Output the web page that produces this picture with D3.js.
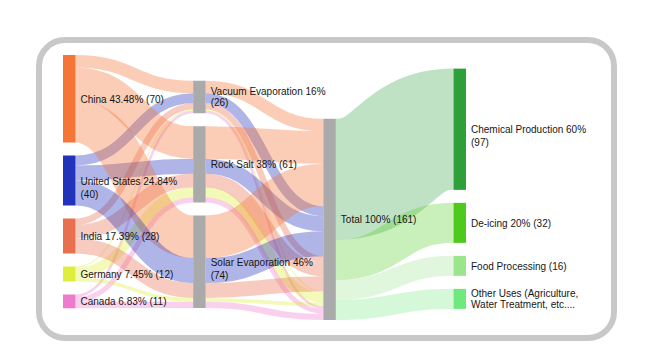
<!DOCTYPE html>
<html><head><meta charset="utf-8">
<script src="https://cdn.jsdelivr.net/npm/d3@7"></script>
<style>
body{margin:0;background:#fff}
svg{display:block}
text{font-family:"Liberation Sans",Arial,sans-serif;font-size:10px;fill:#161616}
</style>
</head><body>
<svg id="chart" width="658" height="359"></svg>
<script>
// ---------------- data ----------------
const countries = ["China", "United States", "India", "Germany", "Canada"];
const countryLabels = ["China 43.48% (70)", "United States 24.84% (40)", "India 17.39% (28)", "Germany 7.45% (12)", "Canada 6.83% (11)"];
const countryColors = ["#f47536", "#2233bb", "#e8704f", "#dfee3c", "#ee7ccd"];

const processes = ["Vacuum Evaporation", "Rock Salt", "Solar Evaporation"];
const processLabels = ["Vacuum Evaporation 16% (26)", "Rock Salt 38% (61)", "Solar Evaporation 46% (74)"];
// flow of each country (same order as countries) into each process
const vacuumByCountry = [10, 8, 5, 1, 2];
const rockSaltByCountry = [26, 12, 11, 8, 4];
const solarByCountry = [34, 20, 12, 3, 5];

const totalName = "Total";
const totalLabel = "Total 100% (161)";

const uses = ["Chemical Production", "De-icing", "Food Processing", "Other Uses"];
const useLabels = ["Chemical Production 60% (97)", "De-icing 20% (32)", "Food Processing (16)", "Other Uses (Agriculture, Water Treatment, etc...."];
const useValues = [97, 32, 16, 16];
const useColors = ["#2ea03a", "#4ccb1c", "#9be68d", "#6fe97d"];
const grayNode = "#aaaaaa";

// ---------------- build graph ----------------
const nodes = [];
countries.forEach((c, i) => nodes.push({name: c, label: countryLabels[i], layer: 0, color: countryColors[i]}));
processes.forEach((p, i) => nodes.push({name: p, label: processLabels[i], layer: 1, color: grayNode}));
nodes.push({name: totalName, label: totalLabel, layer: 2, color: grayNode});
uses.forEach((u, i) => nodes.push({name: u, label: useLabels[i], layer: 3, color: useColors[i]}));
const byName = new Map(nodes.map(n => [n.name, n]));

const processFlows = [vacuumByCountry, rockSaltByCountry, solarByCountry];
const links = [];
processFlows.forEach((arr, p) => arr.forEach((v, c) => {
  if (v > 0) links.push({source: byName.get(countries[c]), target: byName.get(processes[p]), value: v, group: c, color: countryColors[c], op: 0.36});
}));
processFlows.forEach((arr, p) => arr.forEach((v, c) => {
  if (v > 0) links.push({source: byName.get(processes[p]), target: byName.get(totalName), value: v, group: c, color: countryColors[c], op: 0.36});
}));
useValues.forEach((v, u) => links.push({source: byName.get(totalName), target: byName.get(uses[u]), value: v, group: 0, color: useColors[u], op: 0.3}));

// ---------------- layout ----------------
const x0 = 63, x1 = 466, nodeWidth = 12.5;
const y0 = 55, y1 = 320, nodePadding = 13;
const columnAlign = [0, 0.682, 1, 0.55];   // vertical justification of each column inside [y0, y1]

nodes.forEach(n => { n.sourceLinks = []; n.targetLinks = []; });
links.forEach(l => { l.source.sourceLinks.push(l); l.target.targetLinks.push(l); });
nodes.forEach(n => n.value = Math.max(d3.sum(n.sourceLinks, l => l.value), d3.sum(n.targetLinks, l => l.value)));
const nCols = d3.max(nodes, n => n.layer) + 1;
const columns = d3.range(nCols).map(i => nodes.filter(n => n.layer === i));

const xCol = d3.scalePoint().domain(d3.range(nCols)).range([x0, x1 - nodeWidth]);
const grandTotal = d3.sum(useValues);
const vScale = d3.scaleLinear().domain([0, grandTotal]).range([0, 201.25]);

columns.forEach((col, ci) => {
  const h = d3.sum(col, n => vScale(n.value)) + (col.length - 1) * nodePadding;
  let y = y0 + (y1 - y0 - h) * columnAlign[ci];
  col.forEach(n => {
    n.x0 = xCol(ci); n.x1 = n.x0 + nodeWidth;
    n.y0 = y; n.y1 = y + vScale(n.value); y = n.y1 + nodePadding;
  });
});
links.forEach(l => l.width = vScale(l.value));
nodes.forEach(n => {
  n.sourceLinks.sort((a, b) => (a.target.y0 - b.target.y0) || (a.group - b.group));
  n.targetLinks.sort((a, b) => (a.group - b.group) || (a.source.y0 - b.source.y0));
  let a = n.y0, b = n.y0;
  n.sourceLinks.forEach(l => { l.y0 = a + l.width / 2; a += l.width; });
  n.targetLinks.forEach(l => { l.y1 = b + l.width / 2; b += l.width; });
});

// ---------------- draw ----------------
const svg = d3.select("#chart");
svg.append("rect").attr("x", 39).attr("y", 40).attr("width", 575).attr("height", 298)
  .attr("rx", 26).attr("fill", "#fff").attr("stroke", "#c8c8c8").attr("stroke-width", 6);

const linkGen = d3.linkHorizontal().source(d => [d.source.x1, d.y0]).target(d => [d.target.x0, d.y1]);
svg.append("g").attr("fill", "none").selectAll("path").data(links).join("path")
  .attr("d", linkGen).attr("stroke", d => d.color).attr("stroke-opacity", d => d.op)
  .attr("stroke-width", d => Math.max(1, d.width));

svg.append("g").selectAll("rect").data(nodes).join("rect")
  .attr("x", d => d.x0).attr("y", d => d.y0).attr("width", d => d.x1 - d.x0).attr("height", d => d.y1 - d.y0)
  .attr("fill", d => d.color);

function wrap(str, max) {
  const words = str.split(" "), lines = [];
  let cur = "";
  words.forEach(w => {
    const t = cur ? cur + " " + w : w;
    if (t.length > max && cur) { lines.push(cur); cur = w; } else cur = t;
  });
  lines.push(cur);
  return lines;
}
const lab = svg.append("g").selectAll("text").data(nodes).join("text")
  .attr("x", d => d.x1 + 5).attr("dominant-baseline", "central");
lab.each(function(d) {
  const lines = wrap(d.label, 24);
  const mid = (d.y0 + d.y1) / 2, h = d.y1 - d.y0;
  let lh = 13, start = mid;
  if (lines.length > 1 && h / 2 < (lines.length - 0.5) * lh) { lh = 11; start = mid - (lines.length - 1) * lh / 2; }
  d3.select(this).selectAll("tspan").data(lines).join("tspan")
    .attr("x", d.x1 + 5).attr("y", (t, i) => start + i * lh).text(t => t);
});
</script>
</body></html>
